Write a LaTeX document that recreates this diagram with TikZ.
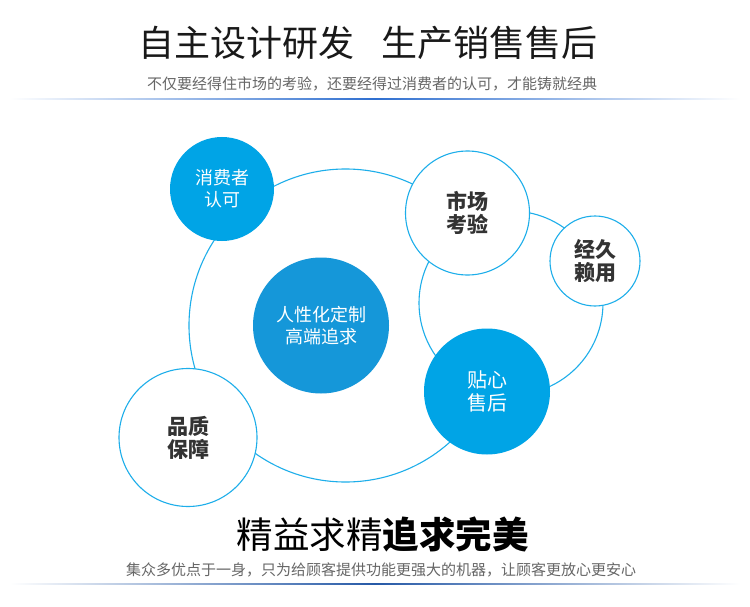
\documentclass[tikz,border=0pt]{standalone}
\usepackage{fontspec}
\setmainfont{Noto Sans CJK SC}
\usepackage{tikz}
\usetikzlibrary{positioning}
\definecolor{skyfill}{HTML}{00A4E6}
\definecolor{corefill}{HTML}{1597D9}
\definecolor{ringcol}{HTML}{1DAEEA}
\definecolor{darktxt}{HTML}{333333}
\definecolor{greytxt}{HTML}{666666}
\definecolor{rulecol}{HTML}{2F6FD0}

\begin{document}
\begin{tikzpicture}[x=1pt,y=-1pt,
    ring/.style={circle,draw=ringcol,line width=1.1pt,inner sep=0pt,outer sep=0pt},
    fc/.style={circle,fill=skyfill,text=white,inner sep=0pt,align=center,
      font=\fontsize{18}{22}\selectfont},
    oc/.style={ring,fill=white,text=darktxt,align=center,
      font=\fontsize{21}{23}\selectfont\bfseries}
  ]
    \useasboundingbox[fill=white] (0,0) rectangle (750,607);
    % heading
    \node[font=\fontsize{36}{40}\selectfont,text=black!90] (head) at (367.5,42.5)
      {自主设计研发\hspace{27pt}生产销售售后};
    \node[font=\fontsize{15}{18}\selectfont,text=greytxt] (sub) at (372,83.5)
      {不仅要经得住市场的考验，还要经得过消费者的认可，才能铸就经典};
    \shade[left color=white,right color=white,middle color=rulecol] (10,98.6) rectangle (740,99.8);
    % rings behind
    \node[ring,minimum size=313pt] (ringL) at (345.5,325.5) {};
    \node[ring,fill=white,minimum size=184pt] (ringR) at (511,303) {};
    % circles
    \node[fc,minimum size=104pt] (cons) at (222,189) {消费者\\认可};
    \node[oc,minimum size=124pt] (mkt) at (467.5,213) {市场\\考验};
    \node[oc,minimum size=90pt] (dur) at (595,261) {经久\\赖用};
    \node[fc,fill=corefill,minimum size=136pt] (core) at (321,325.5) {人性化定制\\高端追求};
    \node[fc,minimum size=126pt,font=\fontsize{20}{23}\selectfont] (svc) at (487,391.5) {贴心\\售后};
    \node[oc,minimum size=138pt] (qual) at (188,437.5) {品质\\保障};
    % footer
    \node[font=\fontsize{36.5}{40}\selectfont,text=black] (foot) at (382.5,534)
      {精益求精{\bfseries 追求完美}};
    \node[font=\fontsize{15}{18}\selectfont,text=greytxt] (footsub) at (381,569.5)
      {集众多优点于一身，只为给顾客提供功能更强大的机器，让顾客更放心更安心};
    \shade[left color=white,right color=white,middle color=rulecol!80!black] (10,583.4) rectangle (740,584.6);
  \end{tikzpicture}
\end{document}
